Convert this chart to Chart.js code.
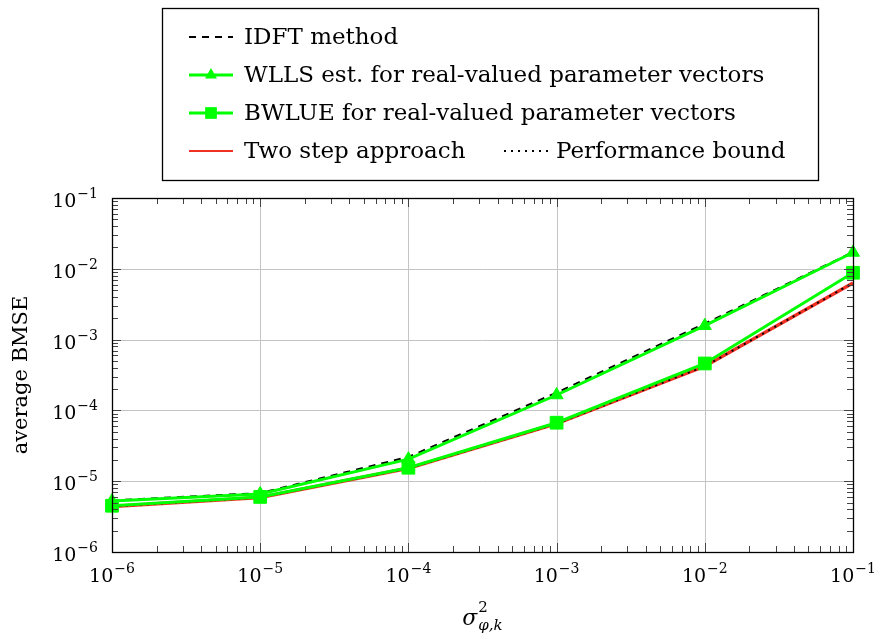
<!DOCTYPE html>
<html><head><meta charset="utf-8">
<script src="https://cdn.jsdelivr.net/npm/chart.js@4/dist/chart.umd.min.js"></script>
<style>html,body{margin:0;padding:0;background:#fff}canvas{display:block}</style>
</head><body>
<canvas id="c" width="880" height="634"></canvas>
<script>
// ---- data ----
const sigma2 = [1e-6, 1e-5, 1e-4, 1e-3, 1e-2, 1e-1];
const idft      = [5.35e-6, 6.8e-6, 2.2e-5, 1.78e-4, 1.68e-3, 1.72e-2];
const wlls      = [5.25e-6, 6.6e-6, 2.05e-5, 1.65e-4, 1.57e-3, 1.70e-2];
const bwlue     = [4.5e-6, 6.0e-6, 1.55e-5, 6.7e-5, 4.6e-4, 8.8e-3];
const twoStep   = [4.4e-6, 5.9e-6, 1.52e-5, 6.5e-5, 4.2e-4, 6.3e-3];
const perfBound = [4.4e-6, 5.9e-6, 1.52e-5, 6.5e-5, 4.2e-4, 6.3e-3];
const xTickExps = [-6, -5, -4, -3, -2, -1];
const yTickExps = [-6, -5, -4, -3, -2, -1];
const seriesLabels = ['IDFT method', 'WLLS est. for real-valued parameter vectors',
  'BWLUE for real-valued parameter vectors', 'Two step approach', 'Performance bound'];
const yTitle = 'average BMSE';

const FONT = '"DejaVu Serif", serif';
const GREEN = '#00ff00';
const RED = 'rgb(240,48,34)';
const pts = arr => sigma2.map((x, i) => ({x: x, y: arr[i]}));

function drawMarker(ctx, style, r, x, y, color) {
  ctx.save();
  ctx.fillStyle = color;
  ctx.beginPath();
  if (style === 'triangle') {
    for (let k = 0; k < 3; k++) {
      const a = k * 2 * Math.PI / 3;
      const px = x + Math.sin(a) * r, py = y - Math.cos(a) * r;
      if (k === 0) ctx.moveTo(px, py); else ctx.lineTo(px, py);
    }
    ctx.closePath();
  } else if (style === 'rect') {
    const s = Math.SQRT1_2 * r;
    ctx.rect(x - s, y - s, 2 * s, 2 * s);
  }
  ctx.fill();
  ctx.restore();
}

function drawPow(ctx, x, base, exp, align, size, supSize) {
  const b = '10', s = '\u2212' + Math.abs(exp);
  ctx.font = size + 'px ' + FONT;
  const wb = ctx.measureText(b).width;
  ctx.font = supSize + 'px ' + FONT;
  const ws = ctx.measureText(s).width;
  const total = wb + 1 + ws;
  const x0 = align === 'center' ? x - total / 2 : x - total;
  ctx.textAlign = 'left';
  ctx.textBaseline = 'alphabetic';
  ctx.fillStyle = '#000';
  ctx.font = size + 'px ' + FONT;
  ctx.fillText(b, x0, base);
  ctx.font = supSize + 'px ' + FONT;
  ctx.fillText(s, x0 + wb + 1, base - 9);
}

const axesPlugin = {
  id: 'axesPlugin',
  beforeDatasetsDraw(chart) {
    const {ctx, chartArea: a, scales: {x, y}} = chart;
    ctx.save();
    ctx.strokeStyle = 'rgb(196,196,196)';
    ctx.lineWidth = 1;
    ctx.beginPath();
    xTickExps.forEach(e => {
      const px = Math.round(x.getPixelForValue(Math.pow(10, e))) + 0.5;
      ctx.moveTo(px, a.top); ctx.lineTo(px, a.bottom);
    });
    yTickExps.forEach(e => {
      const py = Math.round(y.getPixelForValue(Math.pow(10, e))) + 0.5;
      ctx.moveTo(a.left, py); ctx.lineTo(a.right, py);
    });
    ctx.stroke();
    ctx.restore();
  },
  afterDatasetsDraw(chart) {
    const {ctx, chartArea: a, scales: {x, y}} = chart;
    ctx.save();
    ctx.strokeStyle = '#444';
    ctx.lineWidth = 1;
    ctx.beginPath();
    const minorLen = 6, majorLen = 9;
    for (let e = -6; e <= -1; e++) {
      for (let m = 1; m <= 9; m++) {
        if (e === -1 && m > 1) break;
        const v = m * Math.pow(10, e);
        const len = m === 1 ? majorLen : minorLen;
        const px = Math.round(x.getPixelForValue(v)) + 0.5;
        ctx.moveTo(px, a.bottom); ctx.lineTo(px, a.bottom - len);
        ctx.moveTo(px, a.top); ctx.lineTo(px, a.top + len);
        const py = Math.round(y.getPixelForValue(v)) + 0.5;
        ctx.moveTo(a.left, py); ctx.lineTo(a.left + len, py);
        ctx.moveTo(a.right, py); ctx.lineTo(a.right - len, py);
      }
    }
    ctx.stroke();
    ctx.strokeStyle = '#000';
    ctx.lineWidth = 1.3;
    ctx.strokeRect(Math.round(a.left) + 0.5, Math.round(a.top) + 0.5,
      Math.round(a.right - a.left), Math.round(a.bottom - a.top));
    ctx.restore();
  },
  afterDraw(chart) {
    const {ctx, chartArea: a, scales: {x, y}} = chart;
    ctx.save();
    xTickExps.forEach(e => {
      drawPow(ctx, x.getPixelForValue(Math.pow(10, e)), a.bottom + 30, e, 'center', 19, 14);
    });
    yTickExps.forEach(e => {
      drawPow(ctx, a.left - 14, y.getPixelForValue(Math.pow(10, e)) + 9, e, 'right', 19, 14);
    });
    ctx.save();
    ctx.translate(22, (a.top + a.bottom) / 2);
    ctx.rotate(-Math.PI / 2);
    ctx.font = '21px ' + FONT;
    ctx.textAlign = 'center';
    ctx.textBaseline = 'middle';
    ctx.fillStyle = '#000';
    ctx.fillText(yTitle, 0, 0);
    ctx.restore();
    {
      const cx = (a.left + a.right) / 2, base = 625;
      ctx.font = 'italic 22px ' + FONT;
      const ws = ctx.measureText('\u03c3').width;
      ctx.font = 'italic 15px ' + FONT;
      const wsub = ctx.measureText('\u03c6,k').width;
      const total = ws + 1 + wsub;
      const x0 = cx - total / 2;
      ctx.textAlign = 'left'; ctx.textBaseline = 'alphabetic'; ctx.fillStyle = '#000';
      ctx.font = 'italic 22px ' + FONT;
      ctx.fillText('\u03c3', x0, base);
      ctx.font = '15px ' + FONT;
      ctx.fillText('2', x0 + ws + 1, base - 13);
      ctx.font = 'italic 15px ' + FONT;
      ctx.fillText('\u03c6,k', x0 + ws + 1, base + 5);
    }
    const ds = chart.data.datasets;
    const L = {x: 162, y: 8, w: 656, h: 172};
    ctx.fillStyle = '#fff';
    ctx.fillRect(L.x, L.y, L.w, L.h);
    ctx.strokeStyle = '#000';
    ctx.lineWidth = 1.3;
    ctx.strokeRect(L.x + 0.5, L.y + 0.5, L.w, L.h);
    const entries = [
      {i: 0, sx: 189, tx: 244, ry: 37},
      {i: 1, sx: 189, tx: 244, ry: 75},
      {i: 2, sx: 189, tx: 244, ry: 113},
      {i: 3, sx: 189, tx: 244, ry: 151},
      {i: 4, sx: 504, tx: 556, ry: 151}
    ];
    entries.forEach(en => {
      const d = ds[en.i];
      ctx.save();
      ctx.strokeStyle = d.borderColor;
      ctx.lineWidth = en.i === 3 ? 2 : d.borderWidth;
      ctx.setLineDash(d.borderDash || []);
      ctx.beginPath();
      ctx.moveTo(en.sx, en.ry); ctx.lineTo(en.sx + 44, en.ry);
      ctx.stroke();
      ctx.restore();
      if (d.pointRadius > 0) drawMarker(ctx, d.pointStyle, d.pointRadius * 0.92, en.sx + 22, en.ry, d.pointBackgroundColor);
      ctx.font = '23px ' + FONT;
      ctx.fillStyle = '#000';
      ctx.textAlign = 'left';
      ctx.textBaseline = 'middle';
      ctx.fillText(d.label, en.tx, en.ry + 1);
    });
    ctx.restore();
  }
};

new Chart(document.getElementById('c').getContext('2d'), {
  type: 'line',
  data: {
    datasets: [
      {label: seriesLabels[0], data: pts(idft), borderColor: '#000', borderWidth: 2, borderDash: [7, 6],
       pointRadius: 0, order: 5, clip: false},
      {label: seriesLabels[1], data: pts(wlls), borderColor: GREEN, borderWidth: 3, pointStyle: 'triangle',
       pointRadius: 7.5, pointBackgroundColor: GREEN, pointBorderColor: GREEN, pointBorderWidth: 1, order: 2, clip: false},
      {label: seriesLabels[2], data: pts(bwlue), borderColor: GREEN, borderWidth: 3, pointStyle: 'rect',
       pointRadius: 9, pointBackgroundColor: GREEN, pointBorderColor: GREEN, pointBorderWidth: 1, order: 1, clip: false},
      {label: seriesLabels[3], data: pts(twoStep), borderColor: RED, borderWidth: 3.5,
       pointRadius: 0, order: 4, clip: false},
      {label: seriesLabels[4], data: pts(perfBound), borderColor: '#000', borderWidth: 2, borderDash: [2, 5],
       pointRadius: 0, order: 3, clip: false}
    ]
  },
  options: {
    responsive: false, animation: false, devicePixelRatio: 1,
    layout: {padding: {top: 198, right: 27, bottom: 0, left: 0}},
    plugins: {legend: {display: false}, tooltip: {enabled: false}},
    elements: {line: {tension: 0}},
    scales: {
      x: {type: 'logarithmic', min: 1e-6, max: 1e-1, grid: {display: false}, border: {display: false},
          ticks: {display: false}, afterFit(s) { s.height = 82; }},
      y: {type: 'logarithmic', min: 1e-6, max: 1e-1, grid: {display: false}, border: {display: false},
          ticks: {display: false}, afterFit(s) { s.width = 112; }}
    }
  },
  plugins: [axesPlugin]
});
</script>
</body></html>
